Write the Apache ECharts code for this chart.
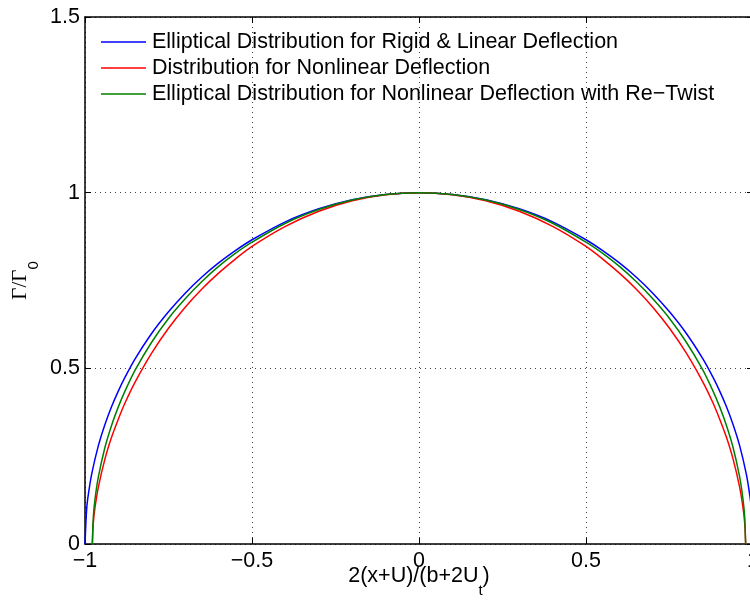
<!DOCTYPE html>
<html>
<head>
<meta charset="utf-8">
<script src="https://cdn.jsdelivr.net/npm/echarts@6/dist/echarts.min.js"></script>
<style>html,body{margin:0;padding:0;background:#fff;}#c{width:750px;height:601px;}</style>
</head>
<body>
<div id="c"></div>
<script>
// Series names
var seriesNames = [
  'Elliptical Distribution for Rigid & Linear Deflection',
  'Distribution for Nonlinear Deflection',
  'Elliptical Distribution for Nonlinear Deflection with Re\u2212Twist'
];
// Blue: rigid & linear deflection
var xBlue = [-1, -0.995, -0.99, -0.98, -0.96, -0.94, -0.92, -0.9, -0.88, -0.85, -0.8, -0.75, -0.7, -0.65, -0.6, -0.55, -0.5, -0.4, -0.3, -0.2, -0.1, 0,
             0.1, 0.2, 0.3, 0.4, 0.5, 0.55, 0.6, 0.65, 0.7, 0.75, 0.8, 0.85, 0.88, 0.9, 0.92, 0.94, 0.96, 0.98, 0.99, 0.995, 1];
var yBlue = [0, 0.100, 0.141, 0.199, 0.280, 0.341, 0.392, 0.436, 0.475, 0.527, 0.600, 0.661, 0.714, 0.760, 0.800, 0.835, 0.866, 0.917, 0.954, 0.980, 0.995, 1,
             0.995, 0.980, 0.954, 0.917, 0.866, 0.835, 0.800, 0.760, 0.714, 0.661, 0.600, 0.527, 0.475, 0.436, 0.392, 0.341, 0.280, 0.199, 0.141, 0.100, 0];
// Red: nonlinear deflection
var xRed = [-0.978, -0.975, -0.97, -0.96, -0.94, -0.92, -0.9, -0.88, -0.85, -0.8, -0.75, -0.7, -0.65, -0.6, -0.55, -0.5, -0.4, -0.3, -0.2, -0.1, 0,
            0.1, 0.2, 0.3, 0.4, 0.5, 0.55, 0.6, 0.65, 0.7, 0.75, 0.8, 0.85, 0.88, 0.9, 0.92, 0.94, 0.96, 0.97, 0.975, 0.978];
var yRed = [0, 0.061, 0.104, 0.162, 0.243, 0.305, 0.356, 0.402, 0.461, 0.544, 0.614, 0.674, 0.726, 0.771, 0.811, 0.847, 0.904, 0.947, 0.977, 0.994, 1,
            0.994, 0.977, 0.947, 0.904, 0.847, 0.811, 0.771, 0.726, 0.674, 0.614, 0.544, 0.461, 0.402, 0.356, 0.305, 0.243, 0.162, 0.104, 0.061, 0];
// Green: nonlinear deflection with re-twist
var xGreen = [-0.978, -0.975, -0.97, -0.96, -0.94, -0.92, -0.9, -0.88, -0.85, -0.8, -0.75, -0.7, -0.65, -0.6, -0.55, -0.5, -0.4, -0.3, -0.2, -0.1, 0,
              0.1, 0.2, 0.3, 0.4, 0.5, 0.55, 0.6, 0.65, 0.7, 0.75, 0.8, 0.85, 0.88, 0.9, 0.92, 0.94, 0.96, 0.97, 0.975, 0.978];
var yGreen = [0, 0.078, 0.128, 0.191, 0.276, 0.339, 0.391, 0.436, 0.495, 0.575, 0.642, 0.698, 0.747, 0.790, 0.827, 0.859, 0.913, 0.952, 0.979, 0.995, 1,
              0.995, 0.979, 0.952, 0.913, 0.859, 0.827, 0.790, 0.747, 0.698, 0.642, 0.575, 0.495, 0.436, 0.391, 0.339, 0.276, 0.191, 0.128, 0.078, 0];
// Axis ranges / ticks
var xTicks = [-1, -0.5, 0, 0.5, 1];
var yTicks = [0, 0.5, 1, 1.5];

function pairs(xs, ys) { return xs.map(function (x, i) { return [x, ys[i]]; }); }
function fmt(v) { return String(v).replace('-', '\u2212'); }

var chart = echarts.init(document.getElementById('c'), null, {renderer: 'canvas'});
var font = '"Liberation Sans", Arial, Helvetica, sans-serif';
var serif = '"Liberation Serif", "Times New Roman", serif';
var split = {show: true, lineStyle: {color: '#444', type: [1, 4], width: 1}};
chart.setOption({
  animation: false,
  backgroundColor: '#fff',
  textStyle: {fontFamily: font},
  grid: {left: 85, top: 17, width: 668, height: 527, containLabel: false, outerBoundsMode: 'none'},
  legend: {
    orient: 'vertical', left: 101, top: 31, padding: 0,
    icon: 'rect', itemWidth: 45, itemHeight: 1.5, itemGap: 4,
    textStyle: {fontFamily: font, fontSize: 21.5, color: '#000', lineHeight: 21, padding: [0, 0, 0, 1]},
    data: seriesNames
  },
  xAxis: [{
    type: 'value', min: xTicks[0], max: xTicks[xTicks.length - 1], interval: 0.5,
    position: 'bottom',
    axisLine: {show: true, onZero: false, lineStyle: {color: '#000', width: 1.5}},
    axisTick: {show: true, inside: true, length: 6, lineStyle: {color: '#000', width: 1}},
    axisLabel: {color: '#000', fontSize: 21.5, fontFamily: font, margin: 6, formatter: fmt},
    splitLine: split,
    name: '{a|2(x+U)/(b+2U}{s|t}{a|)}{h|\u200b}',
    nameLocation: 'middle', nameGap: 21, nameMoveOverlap: false,
    nameTextStyle: {
      rich: {
        a: {fontFamily: font, fontSize: 21.5, color: '#000', lineHeight: 21, verticalAlign: 'top'},
        s: {fontFamily: font, fontSize: 15, color: '#000', lineHeight: 15, verticalAlign: 'bottom'},
        h: {fontFamily: font, fontSize: 10, lineHeight: 33, verticalAlign: 'top'}
      }
    }
  }, {
    type: 'value', min: xTicks[0], max: xTicks[xTicks.length - 1], interval: 0.5,
    position: 'top',
    axisLine: {show: true, onZero: false, lineStyle: {color: '#000', width: 1.5}},
    axisTick: {show: true, inside: true, length: 6, lineStyle: {color: '#000', width: 1}},
    axisLabel: {show: false},
    splitLine: {show: false}
  }],
  yAxis: [{
    type: 'value', min: yTicks[0], max: yTicks[yTicks.length - 1], interval: 0.5,
    position: 'left',
    axisLine: {show: true, onZero: false, lineStyle: {color: '#000', width: 1.5}},
    axisTick: {show: true, inside: true, length: 6, lineStyle: {color: '#000', width: 1}},
    axisLabel: {color: '#000', fontSize: 21.5, fontFamily: font, margin: 5, formatter: fmt},
    splitLine: split,
    name: '{a|\u0393/\u0393}{s|0}{h|\u200b}',
    nameLocation: 'middle', nameGap: 44, nameRotate: 90, nameMoveOverlap: false,
    nameTextStyle: {
      rich: {
        a: {fontFamily: serif, fontSize: 21, color: '#000', lineHeight: 21, verticalAlign: 'top'},
        s: {fontFamily: font, fontSize: 15, color: '#000', lineHeight: 15, verticalAlign: 'bottom'},
        h: {fontFamily: font, fontSize: 10, lineHeight: 31, verticalAlign: 'top'}
      }
    }
  }, {
    type: 'value', min: yTicks[0], max: yTicks[yTicks.length - 1], interval: 0.5,
    position: 'right',
    axisLine: {show: true, onZero: false, lineStyle: {color: '#000', width: 1.5}},
    axisTick: {show: true, inside: true, length: 6},
    axisLabel: {show: false},
    splitLine: {show: false}
  }],
  series: [
    {name: seriesNames[0], type: 'line', data: pairs(xBlue, yBlue), symbol: 'none', smooth: 0.3,
     lineStyle: {color: '#0000ff', width: 1.5}, itemStyle: {color: '#0000ff'}, z: 3},
    {name: seriesNames[1], type: 'line', data: pairs(xRed, yRed), symbol: 'none', smooth: 0.3,
     lineStyle: {color: '#ff0000', width: 1.5}, itemStyle: {color: '#ff0000'}, z: 3},
    {name: seriesNames[2], type: 'line', data: pairs(xGreen, yGreen), symbol: 'none', smooth: 0.3,
     lineStyle: {color: '#008000', width: 1.5}, itemStyle: {color: '#008000'}, z: 4}
  ]
});
</script>
</body>
</html>
